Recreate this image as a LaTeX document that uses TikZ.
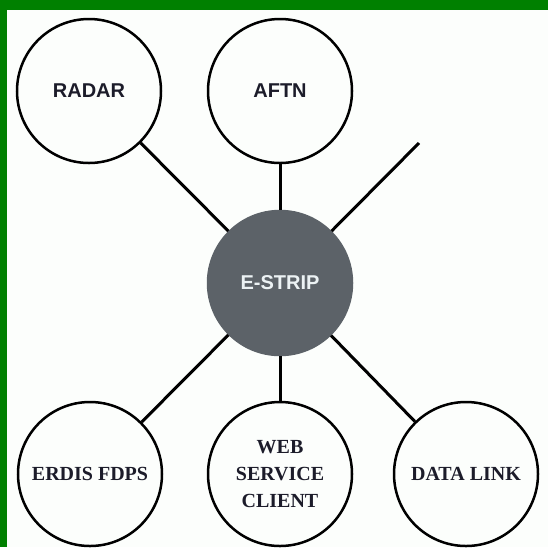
\documentclass[tikz,border=0pt]{standalone}
\usepackage{fontspec}
\setmainfont{Liberation Serif}
\setsansfont{Liberation Sans}
\usetikzlibrary{positioning}
\definecolor{framegreen}{RGB}{0,128,0}
\definecolor{hubgray}{RGB}{92,98,104}
\definecolor{inkdark}{RGB}{28,28,42}
\definecolor{hubtext}{RGB}{236,242,244}
\definecolor{paper}{RGB}{252,254,252}

\begin{document}
\begin{tikzpicture}[x=1pt,y=-1pt,
  sysnode/.style={draw,circle,line width=2.5pt,minimum size=144pt,inner sep=0pt,
    text=inkdark,align=center,font=\bfseries\fontsize{20}{27}\selectfont},
  sanslabel/.style={font=\sffamily\bfseries\fontsize{20}{27}\selectfont},
  link/.style={line width=3pt}]
\useasboundingbox (0,0) rectangle (548,547);

% Frame
\fill[paper] (0,0) rectangle (548,547);
\fill[framegreen] (0,0) rectangle (548,10);
\fill[framegreen] (0,0) rectangle (7,547);

% Top row
\node[sysnode,sanslabel] (radar) at (89,91) {RADAR};
\node[sysnode,sanslabel] (aftn) at (280,91) {AFTN};
\coordinate (free) at (419,143);

% Hub
\node[sysnode,sanslabel,draw=hubgray,fill=hubgray,text=hubtext] (estrip) at (280,283) {E-STRIP};

% Bottom row
\node[sysnode] (erdis) at (90,474) {ERDIS FDPS};
\node[sysnode] (websvc) at (280,474) {WEB\\SERVICE\\CLIENT};
\node[sysnode] (datalink) at (466,474) {DATA LINK};

% Connectors
\draw[link] (radar) -- (estrip);
\draw[link] (aftn) -- (estrip);
\draw[link] (estrip) -- (free);
\draw[link] (estrip) -- (erdis);
\draw[link] (estrip) -- (websvc);
\draw[link] (estrip) -- (datalink);
\end{tikzpicture}
\end{document}
